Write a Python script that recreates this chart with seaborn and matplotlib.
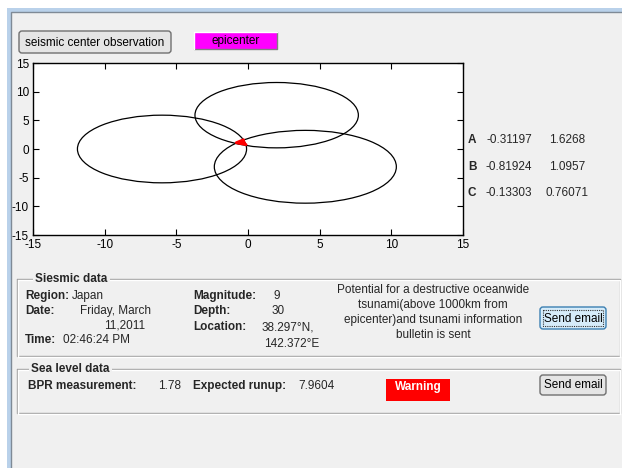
import numpy as np
import matplotlib
matplotlib.use("Agg")
import matplotlib.pyplot as plt
import seaborn as sns
from matplotlib.patches import Circle, Rectangle, FancyBboxPatch

# circles (center x, center y, radius)
centers_x = [-6.0, 2.0, 4.0]
centers_y = [0.0, 5.9, -3.1]
radii = [5.9, 5.7, 6.35]

# epicenter triangle vertices
vertex_names = ['A', 'B', 'C']
vertex_x = [-0.31197, -0.81924, -0.13303]
vertex_y = [1.6268, 1.0957, 0.76071]
vertex_x_txt = ['-0.31197', '-0.81924', '-0.13303']
vertex_y_txt = ['1.6268', '1.0957', '0.76071']

ticks = [-15, -10, -5, 0, 5, 10, 15]

sns.set_style("white")
plt.rcParams['font.family'] = ['Liberation Sans', 'DejaVu Sans']
plt.rcParams['axes.unicode_minus'] = False

W, H = 622, 468
fig = plt.figure(figsize=(W / 100, H / 100), dpi=100, facecolor='white')

# pixel-coordinate layer for the GUI window
bg = fig.add_axes([0, 0, 1, 1])
bg.set_xlim(0, W)
bg.set_ylim(H, 0)
bg.axis('off')

bg.add_patch(Rectangle((7, 8), W, H, facecolor='#b9d1ea', edgecolor='none'))
bg.add_patch(Rectangle((10.5, 11.5), W, H, facecolor='#f0f0f0', edgecolor='#7f8a96', lw=1))


def button(x0, y0, x1, y1, label, face='#e5e5e5', edge='#707070', focus=False):
    bg.add_patch(FancyBboxPatch((x0, y0), x1 - x0, y1 - y0,
                                boxstyle='round,pad=0,rounding_size=3',
                                fc=face, ec=edge, lw=1))
    if focus:
        bg.add_patch(Rectangle((x0 + 3, y0 + 3), x1 - x0 - 6, y1 - y0 - 6,
                               fill=False, ec='#333333', lw=0.8, ls=(0, (1, 1))))
    bg.text((x0 + x1) / 2, (y0 + y1) / 2 + 0.5, label, ha='center', va='center',
            fontsize=8.5, color='black')


def flat_box(x0, y0, x1, y1, label, face, tcolor='black', weight='normal'):
    bg.add_patch(Rectangle((x0, y0), x1 - x0, y1 - y0, fc=face, ec='none'))
    bg.plot([x0, x1, x1], [y1, y1, y0], color='#808080', lw=1)
    bg.plot([x0, x0, x1], [y1, y0, y0], color='#ffffff', lw=1)
    bg.text((x0 + x1) / 2, (y0 + y1) / 2 + 0.5, label, ha='center', va='center',
            fontsize=8.5, color=tcolor, fontweight=weight)


def group_box(x0, y0, x1, y1, title, tx):
    for off, c in [(0, '#a0a0a0'), (1, '#ffffff')]:
        bg.plot([x0 + off, x1, x1, x0 + off, x0 + off],
                [y0 + off, y0 + off, y1 + off, y1 + off, y0 + off], color=c, lw=1)
    bg.text(tx, y0, title, ha='left', va='center', fontsize=8.5, fontweight='bold',
            bbox=dict(fc='#f0f0f0', ec='none', pad=1.5))


button(19, 31, 171, 53, 'seismic center observation')
flat_box(194, 32, 277, 49, 'epicenter', '#ff00ff')

# results next to the plot
for i, name in enumerate(vertex_names):
    yy = 140 + i * 26.5
    bg.text(468, yy, name, ha='left', va='center', fontsize=8.5, fontweight='bold')
    bg.text(509, yy, vertex_x_txt[i], ha='center', va='center', fontsize=8.5)
    bg.text(567, yy, vertex_y_txt[i], ha='center', va='center', fontsize=8.5)

# seismic data panel
group_box(17, 279, 620, 356, 'Siesmic data', 35)


def pair(x, y, lab, val, vx):
    bg.text(x, y, lab, ha='left', va='center', fontsize=8.5, fontweight='bold')
    bg.text(vx, y, val, ha='left', va='center', fontsize=8.5)


pair(25, 296, 'Region:', 'Japan', 72)
pair(25, 311, 'Date:', 'Friday, March', 80)
bg.text(104, 325, '11,2011', ha='left', va='center', fontsize=8.5)
pair(25, 340, 'Time:', '02:46:24 PM', 63)
pair(193, 296, 'Magnitude:', '9', 273)
pair(193, 311, 'Depth:', '30', 272)
pair(193, 327, 'Location:', '38.297°N,', 262)
bg.text(264, 344, '142.372°E', ha='left', va='center', fontsize=8.5)

msg = ['Potential for a destructive oceanwide', 'tsunami(above 1000km from',
       'epicenter)and tsunami information', 'bulletin is sent']
for i, line in enumerate(msg):
    bg.text(433, 290 + i * 15, line, ha='center', va='center', fontsize=8.5)

button(540, 307, 606, 329, 'Send email', face='#d6ecfa', edge='#3c7fb1', focus=True)

# sea level panel
group_box(17, 369, 620, 413, 'Sea level data', 31)
pair(28, 386, 'BPR measurement:', '1.78', 158)
pair(193, 386, 'Expected runup:', '7.9604', 298)
bg.add_patch(Rectangle((386, 379), 64, 22, fc='#ff0000', ec='none'))
bg.text(418, 387, 'Warning', ha='center', va='center', fontsize=8.5,
        fontweight='bold', color='white')
button(540, 375, 606, 395, 'Send email')

# the plot
ax = fig.add_axes([33 / W, 1 - 235 / H, 430 / W, 172 / H])
ax.set_facecolor('white')
for cx, cy, r in zip(centers_x, centers_y, radii):
    ax.add_patch(Circle((cx, cy), r, fill=False, ec='black', lw=0.9))
ax.fill(vertex_x, vertex_y, color='red', zorder=3)
sns.lineplot(x=vertex_x + vertex_x[:1], y=vertex_y + vertex_y[:1], sort=False,
             color='red', lw=2, ax=ax, zorder=4)
ax.set_xlim(-15, 15)
ax.set_ylim(-15, 15)
ax.set_xticks(ticks)
ax.set_yticks(ticks)
ax.tick_params(direction='in', top=True, right=True, bottom=True, left=True,
               length=4, width=0.8, labelsize=8.5, pad=3, colors='black')
for s in ax.spines.values():
    s.set_color('black')
    s.set_linewidth(1)

fig.savefig('out.png', dpi=100, facecolor='white')
